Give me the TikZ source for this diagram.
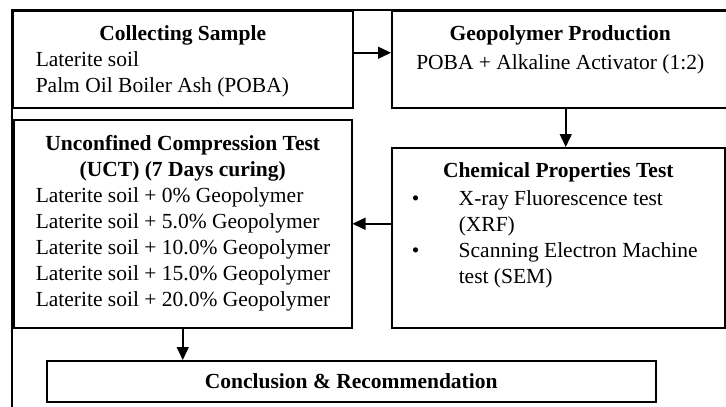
\documentclass[tikz,border=0pt]{standalone}
\usepackage{fontspec}
\setmainfont{Liberation Serif}
\usetikzlibrary{arrows.meta, positioning}

\tikzset{
  box/.style={draw, line width=1.5pt, inner sep=0pt, anchor=north west,
    font=\fontsize{21.5}{26}\selectfont},
  flow/.style={-{Triangle[length=13pt,width=12pt]}, line width=1.5pt}
}
\newcommand{\boxbody}[3]{\parbox[t][#2][t]{#1}{#3}}

\begin{document}
\begin{tikzpicture}[x=1pt, y=-1pt]
\useasboundingbox (0,0) rectangle (726,407);

\draw[line width=1.5pt] (12,407) -- (12,10) -- (726,10);

\node[box] (collect) at (12,10) {\boxbody{340pt}{97pt}{\vspace*{12pt}%
  {\centering\bfseries\strut Collecting Sample\par}
  \hspace*{23pt}Laterite soil\par
  \hspace*{23pt}Palm Oil Boiler Ash (POBA)\par}};

\node[box] (geo) at (391,10) {\boxbody{337pt}{97pt}{\vspace*{12pt}%
  {\centering\bfseries\strut Geopolymer Production\par}
  \vspace{3pt}
  {\centering POBA + Alkaline Activator (1:2)\par}}};

\node[box] (uct) at (13,119) {\boxbody{338pt}{208pt}{\vspace*{13pt}%
  {\centering\bfseries\strut Unconfined Compression Test\par
   (UCT) (7 Days curing)\par}
  \hspace*{22pt}Laterite soil + 0\% Geopolymer\par
  \hspace*{22pt}Laterite soil + 5.0\% Geopolymer\par
  \hspace*{22pt}Laterite soil + 10.0\% Geopolymer\par
  \hspace*{22pt}Laterite soil + 15.0\% Geopolymer\par
  \hspace*{22pt}Laterite soil + 20.0\% Geopolymer\par}};

\node[box] (chem) at (391,147) {\boxbody{333pt}{180pt}{\vspace*{12pt}%
  {\centering\bfseries\strut Chemical Properties Test\par}
  \vspace{2pt}
  \hspace*{20pt}\makebox[47pt][l]{\textbullet}X-ray Fluorescence test\par
  \hspace*{67pt}(XRF)\par
  \hspace*{20pt}\makebox[47pt][l]{\textbullet}Scanning Electron Machine\par
  \hspace*{67pt}test (SEM)\par}};

\node[box, minimum width=609pt, minimum height=41pt] (concl) at (46,360)
  {\bfseries Conclusion \& Recommendation};

\draw[flow] ([yshift=6.5pt]collect.east) -- ([yshift=6.5pt]geo.west);
\draw[flow] ([xshift=5.5pt]geo.south) -- ([xshift=5.5pt]geo.south |- chem.north);
\draw[flow] (uct.east -| chem.west) -- (uct.east);
\draw[flow] (uct.south) -- (uct.south |- concl.north);

\end{tikzpicture}
\end{document}
